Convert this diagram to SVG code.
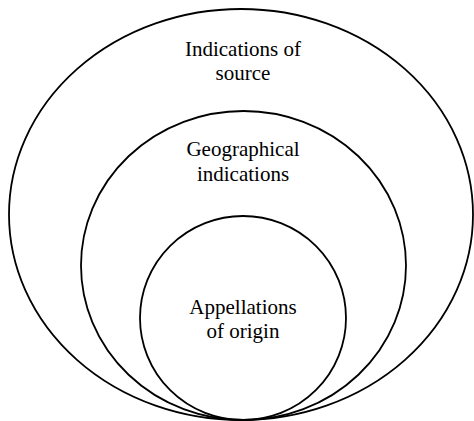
<svg xmlns="http://www.w3.org/2000/svg" width="474" height="421" viewBox="0 0 474 421">
<style>
.c{fill:none;stroke:#000;stroke-width:1.8}
.t{font-family:"Liberation Serif","Times New Roman",serif;font-size:21px;fill:#000;text-anchor:middle}
</style>
<rect width="474" height="421" fill="#fff"/>
<g id="source">
<ellipse class="c" cx="241" cy="214.5" rx="232" ry="205.5"/>
<text class="t" x="243" y="56">Indications of</text>
<text class="t" x="243" y="80">source</text>
</g>
<g id="geographical">
<ellipse class="c" cx="243.5" cy="265.5" rx="162.5" ry="154.5"/>
<text class="t" x="243" y="156">Geographical</text>
<text class="t" x="243" y="181">indications</text>
</g>
<g id="appellations">
<ellipse class="c" cx="243" cy="318" rx="103" ry="102"/>
<text class="t" x="243" y="314">Appellations</text>
<text class="t" x="243" y="338">of origin</text>
</g>
<g id="connectors"/>
</svg>
